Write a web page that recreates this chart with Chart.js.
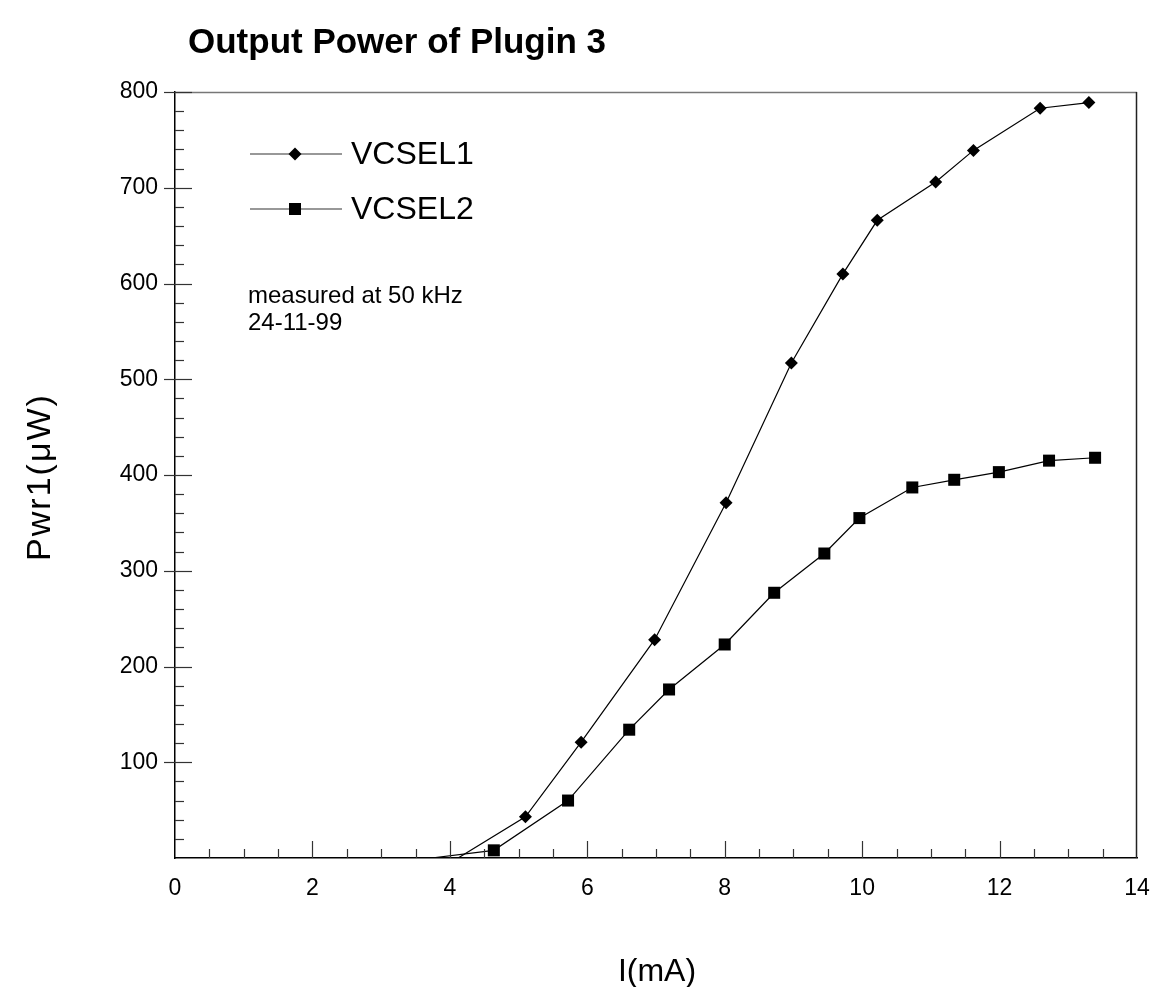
<!DOCTYPE html>
<html>
<head>
<meta charset="utf-8">
<script src="https://cdn.jsdelivr.net/npm/chart.js@4"></script>
<style>
  html, body { margin: 0; padding: 0; background: #fff; }
  #wrap { width: 1153px; height: 987px; }
</style>
</head>
<body>
<div id="wrap"><canvas id="chart" width="1153" height="987"></canvas></div>
<script>
// data: I (mA) vs Pwr1 (uW)
const vcsel1Current = [4.12, 5.10, 5.91, 6.98, 8.02, 8.97, 9.72, 10.22, 11.07, 11.62, 12.59, 13.30];
const vcsel1Power   = [0, 43, 121, 228, 371, 517, 610, 666, 706, 739, 783, 789];
const vcsel2Current = [3.73, 4.64, 5.72, 6.61, 7.19, 8.00, 8.72, 9.45, 9.96, 10.73, 11.34, 11.99, 12.72, 13.39];
const vcsel2Power   = [0, 8, 60, 134, 176, 223, 277, 318, 355, 387, 395, 403, 415, 418];
const xTicks = [0, 2, 4, 6, 8, 10, 12, 14];
const yTicks = [100, 200, 300, 400, 500, 600, 700, 800];

const FONT = '"Liberation Sans", Arial, sans-serif';

function toPoints(xs, ys) {
    return xs.map((x, i) => ({ x: x, y: ys[i] }));
}
// first point of each curve sits on the axis with no marker
function radii(n, r) {
    return Array.from({ length: n }, (_, i) => i === 0 ? 0 : r);
}

// ticks inside the frame, frame lines, titles, legend and note
const decorations = {
    id: 'decorations',
    afterDraw(chart) {
        const ctx = chart.ctx;
        const area = chart.chartArea;
        const xs = chart.scales.x, ys = chart.scales.y;
        ctx.save();

        // top and right frame
        ctx.lineWidth = 1.5;
        ctx.strokeStyle = '#777';
        ctx.beginPath();
        ctx.moveTo(area.left, area.top + 0.5);
        ctx.lineTo(area.right, area.top + 0.5);
        ctx.stroke();
        ctx.strokeStyle = '#222';
        ctx.beginPath();
        ctx.moveTo(area.right - 0.5, area.top);
        ctx.lineTo(area.right - 0.5, area.bottom);
        ctx.stroke();

        // x ticks every 0.5, long ones at the labels
        ctx.lineWidth = 1.2;
        ctx.strokeStyle = '#333';
        for (let v = 0.5; v < 14; v += 0.5) {
            const px = Math.round(xs.getPixelForValue(v)) + 0.5;
            const len = (v % 2 === 0) ? 17 : 9;
            ctx.beginPath();
            ctx.moveTo(px, area.bottom);
            ctx.lineTo(px, area.bottom - len);
            ctx.stroke();
        }
        // y ticks every 20, long ones at the labels
        for (let v = 20; v <= 800; v += 20) {
            const py = Math.round(ys.getPixelForValue(v)) + 0.5;
            const major = v % 100 === 0;
            ctx.beginPath();
            ctx.moveTo(area.left - (major ? 11 : 0), py);
            ctx.lineTo(area.left + (major ? 17 : 9), py);
            ctx.stroke();
        }

        ctx.fillStyle = '#000';
        // title
        ctx.font = 'bold 35px ' + FONT;
        ctx.textAlign = 'left';
        ctx.textBaseline = 'alphabetic';
        ctx.fillText('Output Power of Plugin 3', 188, 53);

        // axis titles
        ctx.font = '32px ' + FONT;
        ctx.textAlign = 'center';
        ctx.fillText('I(mA)', 657, 981);
        ctx.save();
        ctx.translate(50, 477);
        ctx.rotate(-Math.PI / 2);
        ctx.font = '34px ' + FONT;
        ctx.letterSpacing = '2px';
        ctx.fillText('Pwr1(\u03BCW)', 0, 0);
        ctx.restore();

        // legend
        const rows = [
            { label: 'VCSEL1', y: 154, style: 'diamond' },
            { label: 'VCSEL2', y: 209, style: 'square' }
        ];
        rows.forEach(r => {
            ctx.lineWidth = 1.2;
            ctx.strokeStyle = '#333';
            ctx.beginPath();
            ctx.moveTo(250, r.y);
            ctx.lineTo(342, r.y);
            ctx.stroke();
            ctx.fillStyle = '#000';
            ctx.beginPath();
            if (r.style === 'diamond') {
                ctx.moveTo(295, r.y - 6.5);
                ctx.lineTo(301.5, r.y);
                ctx.lineTo(295, r.y + 6.5);
                ctx.lineTo(288.5, r.y);
                ctx.closePath();
            } else {
                ctx.rect(289, r.y - 6, 12, 12);
            }
            ctx.fill();
            ctx.font = '32px ' + FONT;
            ctx.textAlign = 'left';
            ctx.textBaseline = 'middle';
            ctx.fillText(r.label, 351, r.y + 1);
        });

        // note
        ctx.font = '24px ' + FONT;
        ctx.textBaseline = 'alphabetic';
        ctx.fillText('measured at 50 kHz', 248, 303);
        ctx.fillText('24-11-99', 248, 330);

        ctx.restore();
    }
};

new Chart(document.getElementById('chart'), {
    type: 'scatter',
    data: {
        datasets: [
            {
                label: 'VCSEL1',
                data: toPoints(vcsel1Current, vcsel1Power),
                showLine: true,
                borderColor: '#000',
                borderWidth: 1.2,
                backgroundColor: '#000',
                pointStyle: 'rectRot',
                pointRadius: radii(vcsel1Current.length, 6.5),
                pointBorderWidth: 0,
                tension: 0
            },
            {
                label: 'VCSEL2',
                data: toPoints(vcsel2Current, vcsel2Power),
                showLine: true,
                borderColor: '#000',
                borderWidth: 1.2,
                backgroundColor: '#000',
                pointStyle: 'rect',
                pointRadius: radii(vcsel2Current.length, 8.5),
                pointBorderWidth: 0,
                tension: 0
            }
        ]
    },
    options: {
        responsive: false,
        animation: false,
        layout: { padding: { left: 0, top: 92, right: 16, bottom: 0 } },
        plugins: {
            legend: { display: false },
            title: { display: false },
            tooltip: { enabled: false }
        },
        scales: {
            x: {
                type: 'linear',
                min: 0,
                max: 14,
                afterFit: s => { s.height = 129; s.paddingLeft = 0; s.paddingRight = 0; },
                afterBuildTicks: s => { s.ticks = xTicks.map(v => ({ value: v })); },
                grid: { display: false },
                border: { display: true, color: '#000', width: 1.5 },
                ticks: { color: '#000', padding: 9, font: { family: FONT, size: 23 } }
            },
            y: {
                type: 'linear',
                min: 0,
                max: 800,
                afterFit: s => { s.width = 175; s.paddingTop = 0; s.paddingBottom = 0; },
                afterBuildTicks: s => { s.ticks = yTicks.map(v => ({ value: v })); },
                grid: { display: false },
                border: { display: true, color: '#000', width: 1.5 },
                ticks: { color: '#000', padding: 9, font: { family: FONT, size: 23 } }
            }
        }
    },
    plugins: [decorations]
});
</script>
</body>
</html>
